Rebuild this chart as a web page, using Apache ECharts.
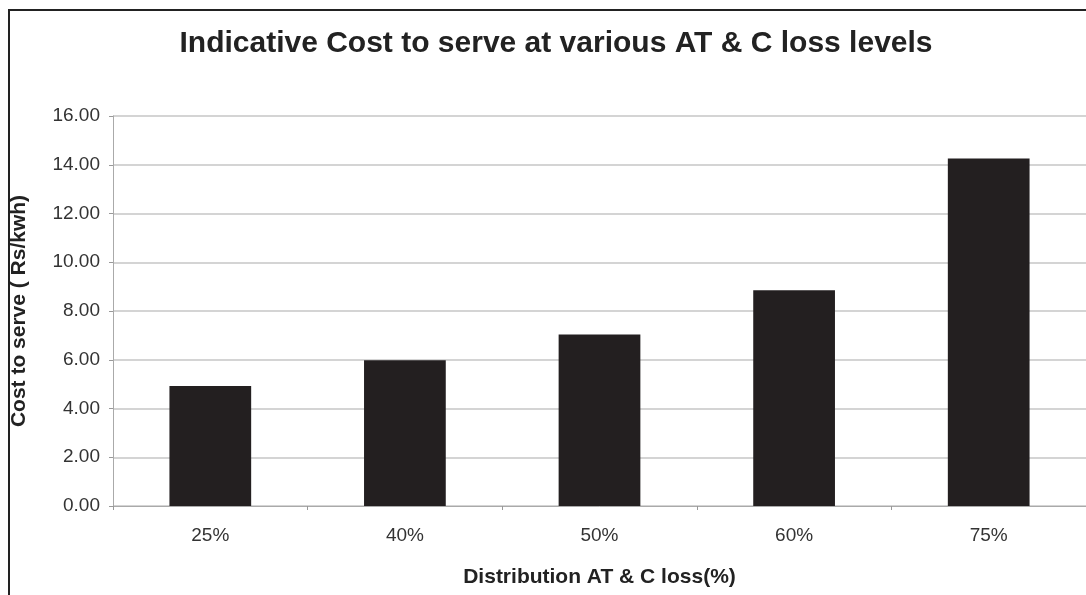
<!DOCTYPE html>
<html>
<head>
<meta charset="utf-8">
<script src="https://cdn.jsdelivr.net/npm/echarts@6/dist/echarts.min.js"></script>
<style>
html,body{margin:0;padding:0;background:#fff;}
#chart{width:1086px;height:595px;}
</style>
</head>
<body>
<div id="chart"></div>
<script>
const categories = ['25%', '40%', '50%', '60%', '75%'];
const costValues = [4.92, 5.98, 7.04, 8.85, 14.26];
const yTicks = [0, 2, 4, 6, 8, 10, 12, 14, 16];

const chart = echarts.init(document.getElementById('chart'));
chart.setOption({
  animation: false,
  backgroundColor: '#fff',
  title: {
    text: 'Indicative Cost to serve at various AT & C loss levels',
    left: 551,
    textAlign: 'center',
    top: 24,
    textStyle: { fontFamily: 'Liberation Sans', fontWeight: 'bold', fontSize: 30, color: '#222' }
  },
  graphic: [
    { type: 'polyline', shape: { points: [[9, 595], [9, 10], [1086, 10]] }, style: { stroke: '#222', lineWidth: 2, fill: null } }
  ],
  grid: { left: 113, right: -8, top: 116, bottom: 89, containLabel: false },
  xAxis: {
    type: 'category',
    data: categories,
    name: 'Distribution AT & C loss(%)',
    nameLocation: 'middle',
    nameGap: 61,
    nameTextStyle: { fontFamily: 'Liberation Sans', fontWeight: 'bold', fontSize: 21, color: '#222' },
    axisLine: { lineStyle: { color: '#aaa', width: 1 } },
    axisTick: { show: true, alignWithLabel: false, length: 4, lineStyle: { color: '#999' } },
    axisLabel: { fontFamily: 'Liberation Sans', fontSize: 19, color: '#333', margin: 20 }
  },
  yAxis: {
    type: 'value',
    min: 0, max: 16, interval: 2,
    name: 'Cost to serve ( Rs/kwh)',
    nameLocation: 'middle',
    nameGap: 83,
    nameRotate: 90,
    nameTextStyle: { fontFamily: 'Liberation Sans', fontWeight: 'bold', fontSize: 21, color: '#222' },
    axisLine: { show: true, lineStyle: { color: '#aaa', width: 1 } },
    axisTick: { show: true, length: 4, lineStyle: { color: '#999' } },
    axisLabel: { fontFamily: 'Liberation Sans', fontSize: 19, color: '#333', margin: 13,
      formatter: v => yTicks.includes(v) ? v.toFixed(2) : '' },
    splitLine: { show: true, lineStyle: { color: '#c6c6c6', width: 1.5 } }
  },
  series: [{
    type: 'bar',
    data: costValues,
    barWidth: '42%',
    itemStyle: { color: '#231f20' }
  }]
});
</script>
</body>
</html>
